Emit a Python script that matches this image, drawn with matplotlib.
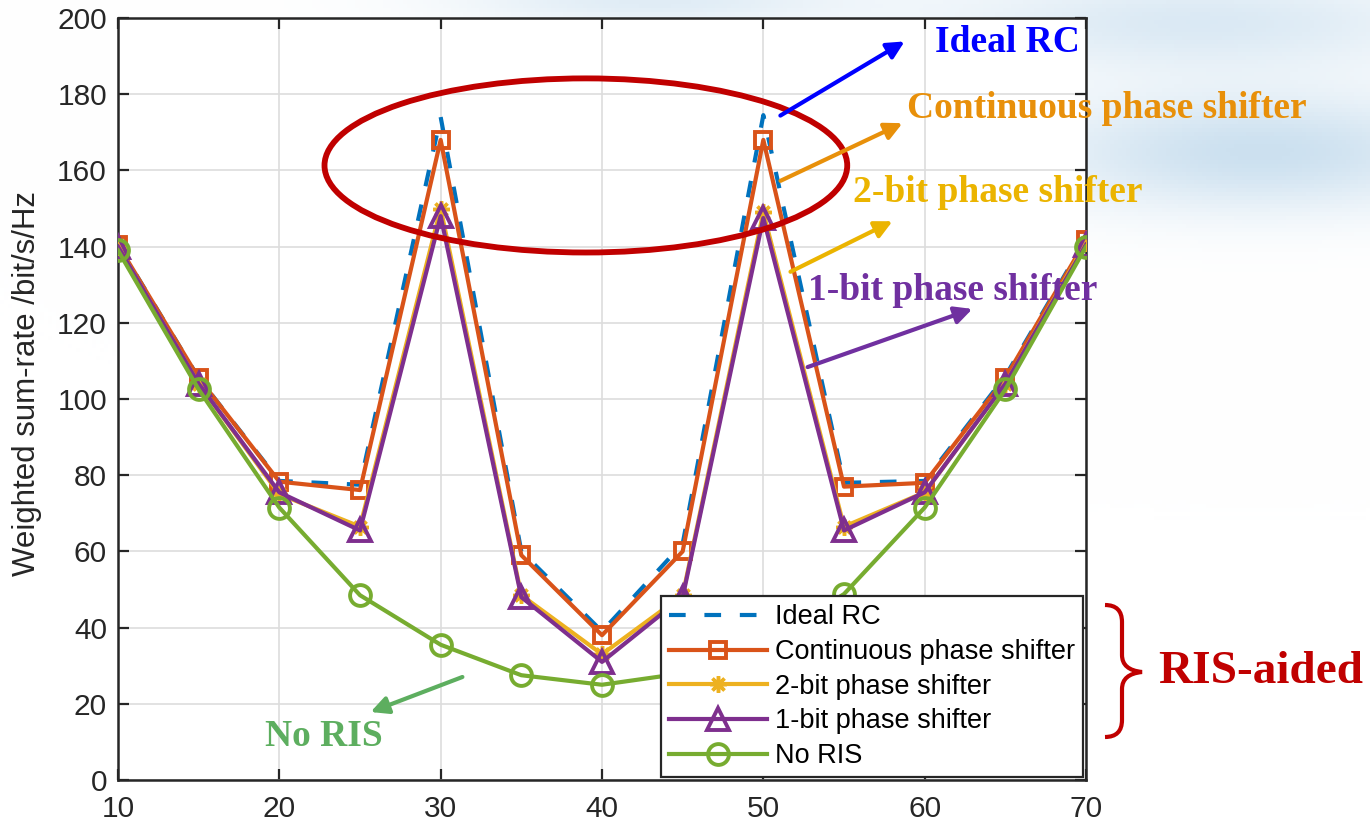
import numpy as np
import matplotlib.pyplot as plt
from matplotlib.patches import Ellipse, PathPatch, FancyArrowPatch
from matplotlib.path import Path

# data
x = [10, 15, 20, 25, 30, 35, 40, 45, 50, 55, 60, 65, 70]
ideal_rc = [140.5, 105.5, 78.5, 77.5, 174, 60, 39, 62, 174.5, 78, 78.5, 106, 142]
continuous = [140.5, 105.5, 78.3, 76.1, 168, 59, 38, 60, 168, 77, 78, 105.5, 141.7]
two_bit = [140, 104, 75, 66.5, 150, 48.5, 33, 48.5, 149, 66.5, 75.5, 104, 141]
one_bit = [140, 104, 75.5, 65.5, 148, 48, 31, 48, 147.5, 65.5, 75.5, 104, 140.5]
no_ris = [139, 102.5, 71.5, 48.5, 35.5, 27.5, 25, 28, 35.5, 48.8, 71.5, 102.5, 140]

labels = ['Ideal RC', 'Continuous phase shifter', '2-bit phase shifter',
          '1-bit phase shifter', 'No RIS']
colors = ['#0072BD', '#D95319', '#EDB120', '#7E2F8E', '#77AC30']

W, H = 1370, 824


def fpx(px, py):
    return (px / W, 1 - py / H)


plt.rcParams['font.family'] = ['Liberation Sans', 'DejaVu Sans']

fig = plt.figure(figsize=(13.7, 8.24), dpi=100)

# faint sky-like background at the top right
bg = fig.add_axes([0, 0, 1, 1], zorder=-10)
yy, xx = np.mgrid[0:H:4, 0:W:4]
glow = (np.exp(-(((xx - 1260) / 230.0) ** 2 + ((yy - 150) / 60.0) ** 2))
        + 0.7 * np.exp(-(((xx - 1200) / 260.0) ** 2 + ((yy - 20) / 50.0) ** 2))
        + 0.6 * np.exp(-(((xx - 650) / 200.0) ** 2 + ((yy - 0) / 25.0) ** 2)))
glow = np.clip(glow, 0, 1)
img = np.ones((glow.shape[0], glow.shape[1], 3))
sky = np.array([0.80, 0.88, 0.94])
img = img * (1 - glow[..., None]) + sky * glow[..., None]
bg.imshow(img, extent=[0, 1, 0, 1], aspect='auto')
bg.axis('off')

ax = fig.add_axes([118 / W, 1 - 780 / H, (1086 - 118) / W, (780 - 18) / H])
ax.set_facecolor('white')

lw = 3.0
ax.plot(x, ideal_rc, color=colors[0], lw=lw, ls=(0, (4, 4.5)), label=labels[0], zorder=3)
ax.plot(x, continuous, color=colors[1], lw=lw, marker='s', ms=12, mfc='none', mew=2.8,
        label=labels[1], zorder=4)
ax.plot(x, two_bit, color=colors[2], lw=lw, marker=(8, 2, 0), ms=12, mew=2.5,
        label=labels[2], zorder=5)
ax.plot(x, one_bit, color=colors[3], lw=lw, marker='^', ms=16, mfc='none', mew=2.8,
        label=labels[3], zorder=6)
ax.plot(x, no_ris, color=colors[4], lw=lw, marker='o', ms=15, mfc='none', mew=2.8,
        label=labels[4], zorder=7)

ax.set_xlim(10, 70)
ax.set_ylim(0, 200)
ax.set_xticks(range(10, 71, 10))
ax.set_yticks(range(0, 201, 20))
ax.grid(True, color='#DDDDDD', lw=1.2)
ax.set_axisbelow(True)
ax.tick_params(direction='in', length=8, width=1.6, top=True, right=True,
               labelsize=21.5, colors='#262626')
ax.tick_params(axis='x', pad=11)
ax.tick_params(axis='y', pad=8)
for s in ax.spines.values():
    s.set_linewidth(1.8)
    s.set_color('#262626')
ax.set_ylabel('Weighted sum-rate /bit/s/Hz', fontsize=22.5, color='#262626')
ax.yaxis.set_label_coords(-0.079, 0.52)

leg = ax.legend(loc='lower right', fontsize=19.5, borderaxespad=0.1, fancybox=False,
                framealpha=1, edgecolor='#262626', handlelength=3.6,
                handletextpad=0.3, labelspacing=0.32, borderpad=0.3)
leg.get_frame().set_linewidth(1.6)
leg.set_zorder(20)

# red ellipse around the peaks
ax.add_patch(Ellipse((39, 161.3), 32.4, 45.7, fill=False, ec='#C00000', lw=4.2, zorder=8,
                     clip_on=False))

serif = 'Liberation Serif'
notes = [
    ('Ideal RC', (935, 42), '#0000FF', (778, 117), (907, 40)),
    ('Continuous phase shifter', (907, 108), '#E8900A', (778, 182), (905, 122)),
    ('2-bit phase shifter', (853, 192), '#EBB400', (788, 273), (895, 220)),
    ('1-bit phase shifter', (808, 290), '#7030A0', (805, 368), (975, 308)),
    ('No RIS', (265, 737), '#5DAE5F', (465, 676), (368, 713)),
]
for text, pos, c, start, tip in notes:
    fig.text(*fpx(*pos), text, ha='left', va='center', color=c, fontsize=27,
             fontfamily=serif, fontweight='bold', zorder=30)
    fig.add_artist(FancyArrowPatch(
        fpx(*start), fpx(*tip), transform=fig.transFigure, arrowstyle='-|>',
        mutation_scale=26, color=c, lw=3, zorder=30))

fig.text(*fpx(1158, 672), 'RIS-aided', ha='left', va='center', color='#C00000',
         fontsize=34, fontfamily=serif, fontweight='bold')

# curly brace
pts = [(1105, 605), (1122, 605), (1122, 622), (1122, 655), (1122, 670), (1142, 672),
       (1122, 674), (1122, 689), (1122, 720), (1122, 737), (1105, 737)]
codes = [Path.MOVETO, Path.CURVE3, Path.CURVE3, Path.LINETO, Path.CURVE3, Path.CURVE3,
         Path.CURVE3, Path.CURVE3, Path.LINETO, Path.CURVE3, Path.CURVE3]
brace = Path([fpx(*p) for p in pts], codes)
fig.add_artist(PathPatch(brace, transform=fig.transFigure, fill=False, ec='#C00000', lw=3))

fig.savefig('out.png', dpi=100)
